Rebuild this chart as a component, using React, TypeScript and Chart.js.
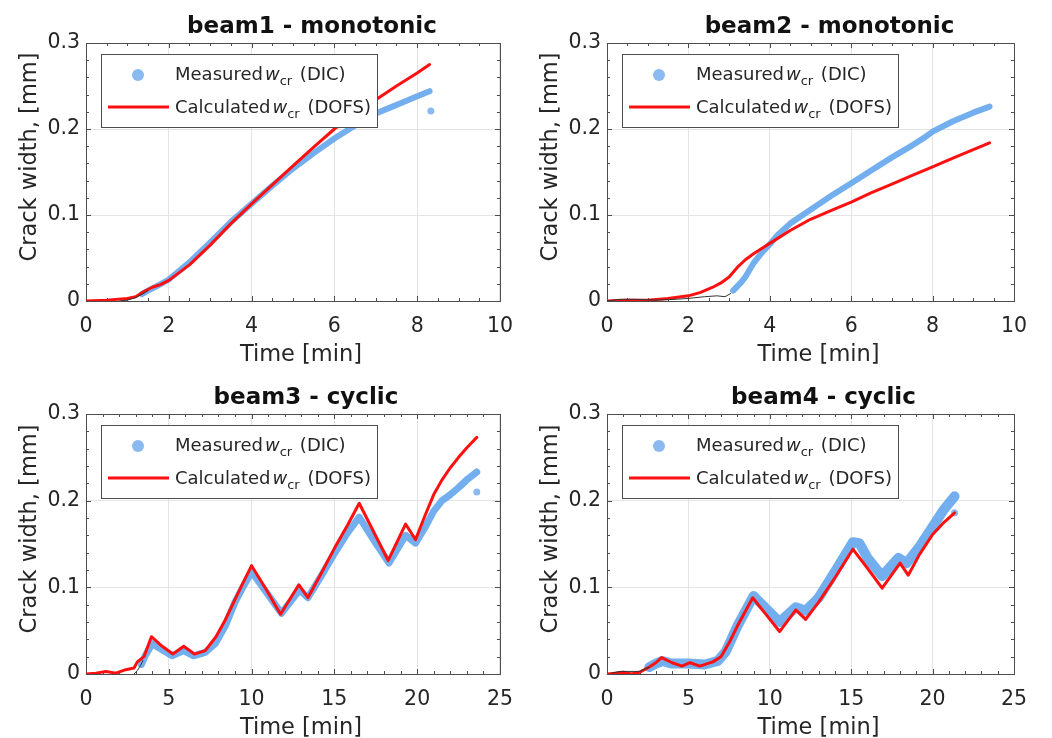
import React, { useEffect, useRef } from 'react';
import { Chart, registerables } from 'chart.js';
Chart.register(...registerables);

const FONT = "'DejaVu Sans', sans-serif";
const TEXT = '#262626';
const AXIS = '#4d4d4d';
const GRID = '#e4e4e4';
const BLUE = 'rgba(100,166,236,0.9)';
const BLUE_LIGHT = 'rgb(138,186,240)';
const RED = '#ff1010';
const REF = '#333333';

// ---------- tick labels ----------
const yTickLabels = ['0', '0.1', '0.2', '0.3'];
const xTickLabels10 = ['0', '2', '4', '6', '8', '10'];
const xTickLabels25 = ['0', '5', '10', '15', '20', '25'];
const titles = ['beam1 - monotonic', 'beam2 - monotonic', 'beam3 - cyclic', 'beam4 - cyclic'];
const xAxisTitle = 'Time [min]';
const yAxisTitle = 'Crack width, [mm]';
const legendMeasured = ['Measured', 'w', 'cr', ' (DIC)'];
const legendCalculated = ['Calculated', 'w', 'cr', ' (DOFS)'];

// ---------- beam1 ----------
const beam1CalcT = [0, 0.5, 1.0, 1.2, 1.4, 1.6, 1.8, 2.0, 2.5, 3.0, 3.5, 4.0, 4.5, 5.0, 5.5, 6.0, 6.5, 7.0, 7.5, 8.0, 8.3];
const beam1CalcW = [0, 0.001, 0.003, 0.005, 0.011, 0.016, 0.019, 0.024, 0.042, 0.065, 0.09, 0.113, 0.135, 0.157, 0.179, 0.2, 0.218, 0.234, 0.25, 0.265, 0.275];
const beam1MeasT = [1.35, 1.5, 1.7, 2.0, 2.5, 3.0, 3.5, 4.0, 4.5, 5.0, 5.5, 6.0, 6.5, 7.0, 7.3, 7.6, 8.0, 8.3];
const beam1MeasW = [0.008, 0.012, 0.017, 0.025, 0.045, 0.068, 0.092, 0.113, 0.134, 0.154, 0.172, 0.189, 0.204, 0.218, 0.224, 0.23, 0.238, 0.244];
const beam1RefT = [0.8, 1.0, 1.2, 1.4, 1.5];
const beam1RefW = [0, 0.001, 0.004, 0.009, 0.012];
const beam1OutT = [8.33];
const beam1OutW = [0.221];

// ---------- beam2 ----------
const beam2CalcT = [0, 0.5, 1.0, 1.5, 2.0, 2.3, 2.6, 2.8, 3.0, 3.2, 3.4, 3.6, 3.8, 4.0, 4.5, 5.0, 5.5, 6.0, 6.5, 7.0, 7.5, 8.0, 8.5, 9.0, 9.4];
const beam2CalcW = [0, 0.001, 0.001, 0.003, 0.006, 0.01, 0.016, 0.021, 0.028, 0.039, 0.048, 0.055, 0.061, 0.067, 0.082, 0.095, 0.105, 0.115, 0.126, 0.136, 0.146, 0.156, 0.166, 0.176, 0.184];
const beam2MeasT = [3.1, 3.2, 3.3, 3.4, 3.5, 3.6, 3.8, 4.0, 4.2, 4.5, 5.0, 5.5, 6.0, 6.5, 7.0, 7.5, 7.8, 8.0, 8.5, 9.0, 9.4];
const beam2MeasW = [0.012, 0.017, 0.022, 0.028, 0.036, 0.044, 0.056, 0.066, 0.077, 0.09, 0.106, 0.122, 0.137, 0.152, 0.167, 0.181, 0.19, 0.197, 0.209, 0.219, 0.226];
const beam2RefT = [0, 0.3, 0.7, 1.2, 1.7, 2.0, 2.4, 2.7, 2.9, 3.05];
const beam2RefW = [0, 0.002, 0.002, 0.001, 0.002, 0.003, 0.005, 0.006, 0.005, 0.009];
const beam2OutT: number[] = [];
const beam2OutW: number[] = [];

// ---------- beam3 ----------
const beam3CalcT = [0, 0.6, 1.2, 1.8, 2.4, 2.9, 3.1, 3.5, 3.95, 4.6, 5.25, 5.9, 6.55, 7.2, 7.85, 8.4, 8.9, 9.4, 10.0, 10.9, 11.75, 12.85, 13.4, 14.2, 15.0, 15.8, 16.5, 17.4, 18.25, 19.3, 19.9, 20.5, 21.0, 21.5, 22.0, 22.5, 23.0, 23.6];
const beam3CalcW = [0, 0.001, 0.003, 0.001, 0.005, 0.007, 0.014, 0.02, 0.043, 0.032, 0.023, 0.032, 0.023, 0.027, 0.043, 0.062, 0.082, 0.102, 0.125, 0.097, 0.069, 0.103, 0.088, 0.116, 0.145, 0.172, 0.197, 0.163, 0.131, 0.173, 0.155, 0.184, 0.207, 0.224, 0.238, 0.25, 0.261, 0.273];
const beam3MeasT = [3.35, 3.6, 4.0, 4.6, 5.2, 5.9, 6.5, 7.2, 7.8, 8.4, 9.0, 9.5, 10.0, 10.9, 11.8, 12.9, 13.4, 14.2, 15.0, 15.8, 16.5, 17.4, 18.3, 19.3, 19.9, 20.5, 21.0, 21.5, 22.0, 22.5, 23.0, 23.6];
const beam3MeasW = [0.011, 0.022, 0.035, 0.028, 0.021, 0.027, 0.021, 0.025, 0.035, 0.055, 0.083, 0.101, 0.118, 0.094, 0.07, 0.097, 0.088, 0.113, 0.139, 0.163, 0.181, 0.154, 0.128, 0.16, 0.151, 0.17, 0.188, 0.2, 0.207, 0.215, 0.224, 0.233];
const beam3RefT = [2.9, 3.1, 3.3, 3.45];
const beam3RefW = [0, 0.004, 0.01, 0.016];
const beam3OutT = [23.6];
const beam3OutW = [0.21];

// ---------- beam4 ----------
const beam4CalcT = [0, 0.5, 1.0, 1.5, 2.0, 2.5, 3.0, 3.35, 4.0, 4.6, 5.1, 5.7, 6.5, 7.0, 7.5, 8.0, 8.95, 9.8, 10.6, 11.6, 12.2, 13.0, 14.0, 15.1, 16.0, 16.9, 18.0, 18.5, 19.2, 20.0, 20.7, 21.35];
const beam4CalcW = [0, 0.001, 0.002, 0.0, 0.002, 0.007, 0.013, 0.019, 0.013, 0.009, 0.013, 0.009, 0.014, 0.02, 0.036, 0.055, 0.088, 0.068, 0.049, 0.074, 0.063, 0.083, 0.111, 0.144, 0.122, 0.099, 0.128, 0.114, 0.138, 0.161, 0.175, 0.186];
const beam4MeasT = [2.6, 3.0, 3.4, 4.0, 5.0, 6.0, 6.8, 7.3, 8.0, 9.0, 9.8, 10.6, 11.6, 12.2, 13.0, 14.0, 15.1, 15.5, 16.0, 16.9, 17.9, 18.4, 19.2, 20.0, 20.7, 21.35];
const beam4MeasW = [0.008, 0.012, 0.015, 0.012, 0.012, 0.011, 0.015, 0.026, 0.055, 0.09, 0.075, 0.06, 0.077, 0.073, 0.088, 0.118, 0.152, 0.151, 0.134, 0.113, 0.134, 0.128, 0.147, 0.17, 0.19, 0.205];
const beam4RefT = [0.3, 0.8, 1.3, 2.0, 2.6];
const beam4RefW = [0.001, 0.003, 0.003, 0.003, 0.008];
const beam4OutT = [21.35];
const beam4OutW = [0.186];

const pts = (t: number[], w: number[]) => t.map((x, i) => ({ x, y: w[i] }));

type Cfg = {
  title: string; left: number; top: number; w: number; h: number;
  plot: { l: number; t: number; r: number; b: number };
  xMax: number; xStep: number; xMinor: number; xLabels: string[]; titleDx: number;
  calcT: number[]; calcW: number[]; measT: number[]; measW: number[];
  refT: number[]; refW: number[]; outT: number[]; outW: number[]; blueWidth: number;
};

const panels: Cfg[] = [
  { title: titles[0], left: 0, top: 0, w: 526, h: 369, plot: { l: 86, t: 43, r: 502, b: 301 },
    xMax: 10, xStep: 2, xMinor: 0.5, xLabels: xTickLabels10, titleDx: 19,
    calcT: beam1CalcT, calcW: beam1CalcW, measT: beam1MeasT, measW: beam1MeasW,
    refT: beam1RefT, refW: beam1RefW, outT: beam1OutT, outW: beam1OutW, blueWidth: 6 },
  { title: titles[1], left: 526, top: 0, w: 526, h: 369, plot: { l: 81, t: 43, r: 488, b: 301 },
    xMax: 10, xStep: 2, xMinor: 0.5, xLabels: xTickLabels10, titleDx: 19,
    calcT: beam2CalcT, calcW: beam2CalcW, measT: beam2MeasT, measW: beam2MeasW,
    refT: beam2RefT, refW: beam2RefW, outT: beam2OutT, outW: beam2OutW, blueWidth: 6 },
  { title: titles[2], left: 0, top: 369, w: 526, h: 369, plot: { l: 86, t: 45, r: 502, b: 305 },
    xMax: 25, xStep: 5, xMinor: 1, xLabels: xTickLabels25, titleDx: 13,
    calcT: beam3CalcT, calcW: beam3CalcW, measT: beam3MeasT, measW: beam3MeasW,
    refT: beam3RefT, refW: beam3RefW, outT: beam3OutT, outW: beam3OutW, blueWidth: 7 },
  { title: titles[3], left: 526, top: 369, w: 526, h: 369, plot: { l: 81, t: 45, r: 488, b: 305 },
    xMax: 25, xStep: 5, xMinor: 1, xLabels: xTickLabels25, titleDx: 13,
    calcT: beam4CalcT, calcW: beam4CalcW, measT: beam4MeasT, measW: beam4MeasW,
    refT: beam4RefT, refW: beam4RefW, outT: beam4OutT, outW: beam4OutW, blueWidth: 10 },
];

function drawLegendRow(ctx: CanvasRenderingContext2D, x: number, y: number, parts: string[]) {
  ctx.font = `18px ${FONT}`;
  ctx.fillText(parts[0], x, y);
  x += ctx.measureText(parts[0]).width + 2;
  ctx.font = `italic 18px ${FONT}`;
  ctx.fillText(parts[1], x, y);
  x += ctx.measureText(parts[1]).width;
  ctx.font = `13px ${FONT}`;
  ctx.fillText(parts[2], x, y + 5);
  x += ctx.measureText(parts[2]).width + 2;
  ctx.font = `18px ${FONT}`;
  ctx.fillText(parts[3], x, y);
  x += ctx.measureText(parts[3]).width;
  return x;
}

function rowWidth(ctx: CanvasRenderingContext2D, parts: string[]) {
  let w = 0;
  ctx.font = `18px ${FONT}`; w += ctx.measureText(parts[0]).width + 2;
  ctx.font = `italic 18px ${FONT}`; w += ctx.measureText(parts[1]).width;
  ctx.font = `13px ${FONT}`; w += ctx.measureText(parts[2]).width + 2;
  ctx.font = `18px ${FONT}`; w += ctx.measureText(parts[3]).width;
  return w;
}

function Panel({ cfg }: { cfg: Cfg }) {
  const ref = useRef<HTMLCanvasElement | null>(null);
  useEffect(() => {
    const canvas = ref.current;
    if (!canvas) return;
    const { plot } = cfg;
    const framePlugin = {
      id: 'frame',
      beforeDatasetsDraw(chart: any) {
        const { ctx, chartArea: a, scales } = chart;
        const xs = scales.x, ys = scales.y;
        ctx.save();
        ctx.strokeStyle = AXIS;
        ctx.lineWidth = 1;
        ctx.beginPath();
        const nx = Math.round(cfg.xMax / cfg.xMinor);
        for (let i = 0; i <= nx; i++) {
          const v = i * cfg.xMinor;
          const major = Math.abs(v / cfg.xStep - Math.round(v / cfg.xStep)) < 1e-6;
          const len = major ? 5 : 3;
          const px = Math.round(xs.getPixelForValue(v)) + 0.5;
          ctx.moveTo(px, a.bottom); ctx.lineTo(px, a.bottom - len);
          ctx.moveTo(px, a.top); ctx.lineTo(px, a.top + len);
        }
        for (let i = 0; i <= 15; i++) {
          const v = i * 0.02;
          const major = i % 5 === 0;
          const len = major ? 5 : 3;
          const py = Math.round(ys.getPixelForValue(v)) + 0.5;
          ctx.moveTo(a.left, py); ctx.lineTo(a.left + len, py);
          ctx.moveTo(a.right, py); ctx.lineTo(a.right - len, py);
        }
        ctx.stroke();
        ctx.strokeRect(Math.round(a.left) + 0.5, Math.round(a.top) + 0.5,
          Math.round(a.right - a.left), Math.round(a.bottom - a.top));
        ctx.restore();
      },
      afterDraw(chart: any) {
        const { ctx, chartArea: a } = chart;
        ctx.save();
        ctx.fillStyle = TEXT;
        ctx.textBaseline = 'alphabetic';
        // title
        ctx.textAlign = 'center';
        ctx.font = `bold 23px ${FONT}`;
        ctx.fillStyle = '#111111';
        ctx.fillText(cfg.title, (a.left + a.right) / 2 + cfg.titleDx, a.top - 10);
        ctx.fillStyle = TEXT;
        // x label
        ctx.font = `22.5px ${FONT}`;
        ctx.fillText(xAxisTitle, (a.left + a.right) / 2 + 8, a.bottom + 60);
        // y label
        ctx.save();
        ctx.translate(a.left - 50, (a.top + a.bottom) / 2 - 15);
        ctx.rotate(-Math.PI / 2);
        ctx.fillText(yAxisTitle, 0, 0);
        ctx.restore();
        // legend
        ctx.textAlign = 'left';
        const L = a.left, T = a.top;
        const tx = L + 89;
        const maxW = Math.max(rowWidth(ctx, legendMeasured), rowWidth(ctx, legendCalculated));
        const bx = L + 15, by = T + 11;
        const bw = tx + maxW + 6 - bx, bh = 73;
        ctx.fillStyle = '#ffffff';
        ctx.fillRect(bx, by, bw, bh);
        ctx.strokeStyle = AXIS;
        ctx.lineWidth = 1;
        ctx.strokeRect(Math.round(bx) + 0.5, Math.round(by) + 0.5, Math.round(bw), bh);
        ctx.fillStyle = BLUE_LIGHT;
        ctx.beginPath();
        ctx.arc(L + 52, T + 32, 6, 0, Math.PI * 2);
        ctx.fill();
        ctx.strokeStyle = RED;
        ctx.lineWidth = 3;
        ctx.beginPath();
        ctx.moveTo(L + 22, T + 64); ctx.lineTo(L + 83, T + 64);
        ctx.stroke();
        ctx.fillStyle = TEXT;
        drawLegendRow(ctx, tx, T + 37, legendMeasured);
        drawLegendRow(ctx, tx, T + 70, legendCalculated);
        ctx.restore();
      },
    };

    const chart = new Chart(canvas, {
      type: 'line',
      data: {
        datasets: [
          { data: pts(cfg.refT, cfg.refW), borderColor: REF, borderWidth: 1, pointRadius: 0, tension: 0 },
          { data: pts(cfg.calcT, cfg.calcW), borderColor: RED, borderWidth: 3, pointRadius: 0, tension: 0,
            borderJoinStyle: 'round', borderCapStyle: 'round' },
          { data: pts(cfg.measT, cfg.measW), borderColor: BLUE, borderWidth: cfg.blueWidth, pointRadius: 0,
            tension: 0, borderJoinStyle: 'round', borderCapStyle: 'round' },
          { data: pts(cfg.outT, cfg.outW), showLine: false, pointRadius: 3.5, pointBorderWidth: 0,
            pointBackgroundColor: BLUE_LIGHT, borderColor: BLUE_LIGHT },
        ] as any,
      },
      options: {
        animation: false,
        responsive: false,
        maintainAspectRatio: false,
        events: [],
        layout: { padding: { left: 0, top: plot.t, right: cfg.w - plot.r, bottom: 0 } },
        plugins: { legend: { display: false }, title: { display: false }, tooltip: { enabled: false } },
        scales: {
          x: {
            type: 'linear', min: 0, max: cfg.xMax,
            ticks: {
              stepSize: cfg.xStep, maxRotation: 0, autoSkip: false, padding: 13, color: TEXT,
              font: { family: FONT, size: 20.5 },
              callback: (_v: any, i: number) => cfg.xLabels[i],
            },
            grid: { color: GRID, drawTicks: false, lineWidth: 1 },
            border: { display: false },
            afterFit: (s: any) => { s.height = cfg.h - plot.b; },
          },
          y: {
            type: 'linear', min: 0, max: 0.3,
            ticks: {
              stepSize: 0.1, padding: 6, color: TEXT, font: { family: FONT, size: 20.5 },
              callback: (_v: any, i: number) => yTickLabels[i],
            },
            grid: { color: GRID, drawTicks: false, lineWidth: 1 },
            border: { display: false },
            afterFit: (s: any) => { s.width = plot.l; },
          },
        },
      } as any,
      plugins: [framePlugin],
    });
    return () => chart.destroy();
  }, [cfg]);
  return (
    <canvas ref={ref} width={cfg.w} height={cfg.h}
      style={{ position: 'absolute', left: cfg.left, top: cfg.top, width: cfg.w, height: cfg.h }} />
  );
}

export default function App() {
  return (
    <div style={{ position: 'absolute', left: 0, top: 0, width: 1052, height: 738, background: '#ffffff' }}>
      {panels.map((p, i) => <Panel key={i} cfg={p} />)}
    </div>
  );
}
